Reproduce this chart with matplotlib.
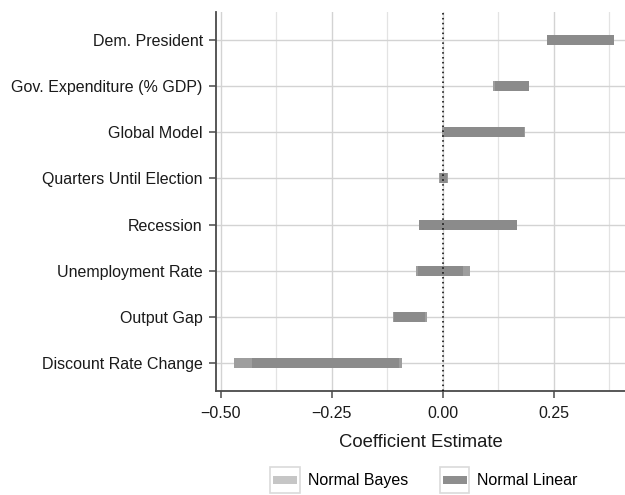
import matplotlib
matplotlib.use("Agg")
import matplotlib.pyplot as plt
from matplotlib.patches import Rectangle, Patch
from matplotlib.legend_handler import HandlerBase
from matplotlib.ticker import FixedLocator

plt.rcParams['font.family'] = ['Liberation Sans', 'DejaVu Sans']

categories = ["Dem. President", "Gov. Expenditure (% GDP)", "Global Model",
              "Quarters Until Election", "Recession", "Unemployment Rate",
              "Output Gap", "Discount Rate Change"]
bayes_lo = [0.236, 0.113, -0.001, -0.009, -0.052, -0.060, -0.113, -0.470]
bayes_hi = [0.385, 0.192, 0.185, 0.011, 0.166, 0.062, -0.035, -0.092]
linear_lo = [0.234, 0.117, 0.002, -0.006, -0.054, -0.056, -0.110, -0.430]
linear_hi = [0.386, 0.194, 0.183, 0.010, 0.167, 0.046, -0.039, -0.098]
series_names = ["Normal Bayes", "Normal Linear"]
x_ticks = [-0.50, -0.25, 0.00, 0.25]
x_tick_labels = ["\u22120.50", "\u22120.25", "0.00", "0.25"]

bayes_bar = "#9e9e9e"
linear_bar = "#8b8b8b"
bayes_key = "#c6c6c6"
linear_key = "#8e8e8e"

fig = plt.figure(figsize=(6.25, 4.95), dpi=100, facecolor="white")
ax = fig.add_axes([216/625, 1-391/495, 1-216/625, (391-12)/495])
ax.set_facecolor("white")

n = len(categories)
ypos = [n - i for i in range(n)]
h = 0.22
ax.barh(ypos, [hi - lo for lo, hi in zip(bayes_lo, bayes_hi)], left=bayes_lo,
        height=h, color=bayes_bar, zorder=3)
ax.barh(ypos, [hi - lo for lo, hi in zip(linear_lo, linear_hi)], left=linear_lo,
        height=h, color=linear_bar, zorder=4)

ax.axvline(0, color="black", lw=1.1, linestyle=(0, (1, 2.2)), zorder=5)

ax.set_xlim(-0.5106, 0.4106)
ax.set_ylim(0.4, n + 0.6)
ax.set_yticks(ypos)
ax.set_yticklabels(categories, fontsize=11.5, color="#1a1a1a")
ax.set_xticks(x_ticks)
ax.set_xticklabels(x_tick_labels, fontsize=11.5, color="#1a1a1a")
ax.xaxis.set_minor_locator(FixedLocator([-0.375, -0.125, 0.125, 0.375]))

ax.grid(True, which="major", color="#d3d3d3", lw=1.0, zorder=0)
ax.grid(True, which="minor", axis="x", color="#e3e3e3", lw=0.9, zorder=0)
ax.set_axisbelow(True)

for s in ["top", "right"]:
    ax.spines[s].set_visible(False)
for s in ["left", "bottom"]:
    ax.spines[s].set_color("#4a4a4a")
    ax.spines[s].set_linewidth(1.3)
ax.tick_params(axis="both", which="major", length=5, width=1.1, color="#4a4a4a")
ax.tick_params(axis="x", which="major", pad=5.5)
ax.tick_params(axis="y", which="major", pad=4.5)
ax.tick_params(axis="x", which="minor", length=0)

ax.set_xlabel("Coefficient Estimate", fontsize=13.3, color="#1a1a1a", labelpad=10)


class KeyHandler(HandlerBase):
    def create_artists(self, legend, orig_handle, xdescent, ydescent, width, height, fontsize, trans):
        box = Rectangle((-xdescent, -ydescent), width, height, facecolor="white",
                        edgecolor="#dadada", lw=1.2, transform=trans)
        bh = height * 0.27
        inset = width * 0.1
        bar = Rectangle((-xdescent + inset, -ydescent + (height - bh) / 2), width - 2 * inset, bh,
                        facecolor=orig_handle.get_facecolor(), edgecolor="none", transform=trans)
        return [box, bar]


handles = [Patch(facecolor=bayes_key), Patch(facecolor=linear_key)]
fig.legend(handles, series_names, loc="center", bbox_to_anchor=(424/625, 1-480/495),
           ncol=2, frameon=False, fontsize=11.5, handlelength=1.85, handleheight=2.2,
           handletextpad=0.5, columnspacing=2.0,
           handler_map={Patch: KeyHandler()})

fig.savefig("out.png", dpi=100, facecolor="white")
